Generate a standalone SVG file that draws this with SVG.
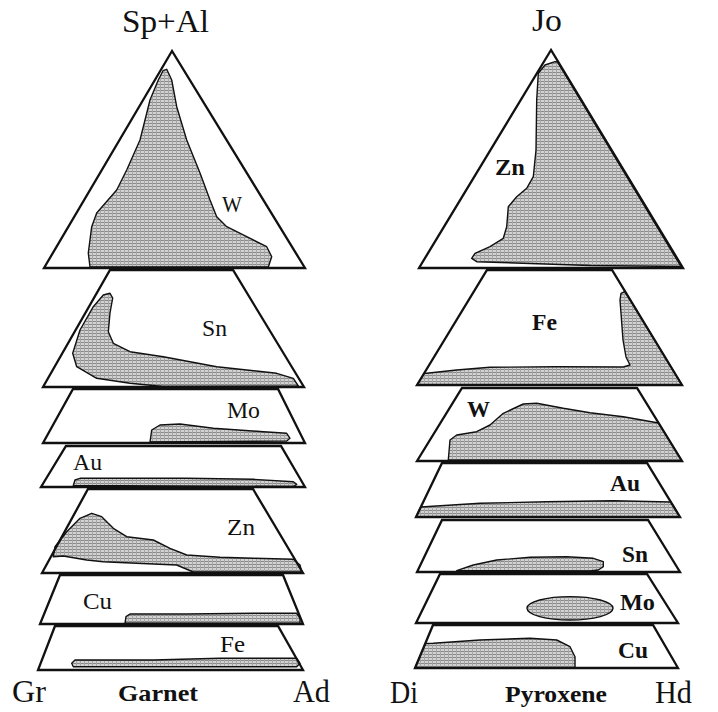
<svg xmlns="http://www.w3.org/2000/svg" width="718" height="712" viewBox="0 0 718 712">
<defs>
<pattern id="dots" width="4" height="3" patternUnits="userSpaceOnUse">
<rect width="4" height="3" fill="#d2d2d2"/>
<rect width="4" height="1" fill="#8a8a8a"/>
<rect width="1" height="3" fill="#a6a6a6"/>
</pattern>
</defs>
<style>
.blob{fill:url(#dots);stroke:#111;stroke-width:1.4;stroke-linejoin:round}
.frame{fill:none;stroke:#111;stroke-width:2.3;stroke-linejoin:miter}
.big{font-family:"Liberation Serif",serif;font-size:31px;fill:#111}
.lab{font-family:"Liberation Serif",serif;font-size:23px;fill:#111}
.bl{font-family:"Liberation Serif",serif;font-size:23px;font-weight:bold;fill:#111}
.ax{font-family:"Liberation Serif",serif;font-size:23px;font-weight:bold;fill:#111}
</style>
<rect width="718" height="712" fill="#fff"/>

<g id="garnet">
  <g id="g-W">
    <path class="blob" d="M166.7,69.3 L171.7,80 L176.7,106.7 L186.7,140 L200,173 L210,200 L216.7,216.7 L226.7,226.7 L246.7,236.7 L266.7,246.7 L271.7,256.7 L268.3,267 L90,267 L88.3,253 L91.7,226.7 L96.7,213 L116.7,190 L126.7,170 L140,140 L150,100 L158.3,80 L163,70.7 Z"/>
    <polygon class="frame" points="172,51 44,268 305,268"/>
    <text class="lab" x="222" y="212" textLength="20" lengthAdjust="spacingAndGlyphs">W</text>
  </g>
  <g id="g-Sn">
    <path class="blob" d="M110,293.3 L112.7,298 L110,313 L108.3,331.7 L113.3,343.3 L130,351.7 L163.3,356.7 L190,361.7 L216.7,366.7 L246.7,370 L276.7,373.3 L293.3,378.3 L298.3,386 L163.3,386.5 L130,383.3 L96.7,378.3 L76.7,366.7 L72.7,353.3 L80,330 L93.3,306.7 L103.3,295 Z"/>
    <polygon class="frame" points="110,270 233,270 304,387 43,387"/>
    <text class="lab" x="202" y="336" textLength="25" lengthAdjust="spacingAndGlyphs">Sn</text>
  </g>
  <g id="g-Mo">
    <path class="blob" d="M150,442 L151.7,430 L160,425 L180,424 L213.3,428.3 L263.3,431.7 L286.7,433.3 L290,438.3 L286.7,441 Z"/>
    <polygon class="frame" points="73,389 278,389 305,443 43,443"/>
    <text class="lab" x="227" y="418" textLength="33" lengthAdjust="spacingAndGlyphs">Mo</text>
  </g>
  <g id="g-Au">
    <path class="blob" d="M73.3,485.5 L75,480 L80,478.3 L186.7,478.3 L253,479.3 L293.3,481.7 L296.7,484.3 L293.3,486.5 Z"/>
    <polygon class="frame" points="66,446 281,446 305,487 41,487"/>
    <text class="lab" x="73" y="470" textLength="29" lengthAdjust="spacingAndGlyphs">Au</text>
  </g>
  <g id="g-Zn">
    <path class="blob" d="M53.3,556.7 L55,546.7 L66.7,531.7 L80,518.3 L91.7,513.3 L101.7,516.7 L113.3,528.3 L126.7,536.7 L153.3,540 L170,548.3 L186.7,555 L220,557.3 L253.3,558.3 L293.3,559.3 L300,565 L301.7,572 L193.3,572 L176.7,565 L136.7,563.3 L103.3,561.7 L86.7,560 L63.3,556 Z"/>
    <polygon class="frame" points="88,489 253,489 303,573 42,573"/>
    <text class="lab" x="227" y="535" textLength="28" lengthAdjust="spacingAndGlyphs">Zn</text>
  </g>
  <g id="g-Cu">
    <path class="blob" d="M125,623.3 L126,616.7 L130,614 L186.7,614 L253.3,613.3 L296.7,613.3 L300,618.3 L300,623.3 Z"/>
    <polygon class="frame" points="60,575 283,575 303,624 40,624"/>
    <text class="lab" x="83" y="609" textLength="29" lengthAdjust="spacingAndGlyphs">Cu</text>
  </g>
  <g id="g-Fe">
    <path class="blob" d="M73.3,666.7 L71.7,663.3 L75,660 L153.3,660 L220,658.3 L296.7,658.3 L300,663.3 L296.7,666.7 Z"/>
    <polygon class="frame" points="55,626 278,626 303,670 38,670"/>
    <text class="lab" x="220" y="652" textLength="25" lengthAdjust="spacingAndGlyphs">Fe</text>
  </g>
  <text class="big" x="122" y="32" textLength="87" lengthAdjust="spacingAndGlyphs">Sp+Al</text>
  <text class="big" x="12" y="702" textLength="34" lengthAdjust="spacingAndGlyphs">Gr</text>
  <text class="big" x="293" y="702" textLength="37" lengthAdjust="spacingAndGlyphs">Ad</text>
  <text class="ax" x="118" y="701" textLength="80" lengthAdjust="spacingAndGlyphs">Garnet</text>
</g>

<g id="pyroxene">
  <g id="p-Zn">
    <path class="blob" d="M555,61.7 L557.5,62 L681,266.5 L590,265.5 L476.7,261.7 L471.7,258.3 L475,253.3 L490,246.7 L503.3,238.3 L506.7,226.7 L508.3,206.7 L516.7,196.7 L526.7,188.3 L533.3,176.7 L536,150 L536.7,100 L538.3,73.3 L545,65 Z"/>
    <polygon class="frame" points="551,50 419,268 683,268"/>
    <text class="bl" x="495" y="175" textLength="30" lengthAdjust="spacingAndGlyphs">Zn</text>
  </g>
  <g id="p-Fe">
    <path class="blob" d="M621,293.3 L625,291.5 L682,385 L417,385 L424.3,373.3 L426.7,373.3 L456.7,370 L490,367.3 L556.7,366.7 L623.3,367 L630,365 L626,357 L623,340 L621.5,320 L620,300 Z"/>
    <polygon class="frame" points="487,270 612,270 682,385 417,385"/>
    <text class="bl" x="532" y="330" textLength="25" lengthAdjust="spacingAndGlyphs">Fe</text>
  </g>
  <g id="p-W">
    <path class="blob" d="M448.3,460 L450,440 L456.7,435 L476.7,431.7 L490,425 L503.3,413.3 L523.3,404 L536.7,403.3 L563.3,408.3 L590,412.7 L623.3,416.7 L658.6,423 L682,461 Z"/>
    <polygon class="frame" points="462,388 637,388 682,461 417,461"/>
    <text class="bl" x="467" y="417" textLength="23" lengthAdjust="spacingAndGlyphs">W</text>
  </g>
  <g id="p-Au">
    <path class="blob" d="M420.8,507 L480,503.3 L546.7,501.7 L613.3,500.7 L670.8,502 L680,517 L416,517 Z"/>
    <polygon class="frame" points="442,463 647,463 680,517 416,517"/>
    <text class="bl" x="610" y="491" textLength="30" lengthAdjust="spacingAndGlyphs">Au</text>
  </g>
  <g id="p-Sn">
    <path class="blob" d="M456.7,570.7 L473.3,565 L496.7,560 L530,557.3 L566.7,556.7 L593.3,558.3 L603.3,561.7 L603.3,566.7 L598.3,570 L590,571 Z"/>
    <polygon class="frame" points="442,520 648,520 680,572 417,572"/>
    <text class="bl" x="622" y="562" textLength="26" lengthAdjust="spacingAndGlyphs">Sn</text>
  </g>
  <g id="p-Mo">
    <ellipse class="blob" cx="570" cy="608.3" rx="43" ry="11.7"/>
    <polygon class="frame" points="440,574 647,574 678,623 416,623"/>
    <text class="bl" x="620" y="610" textLength="35" lengthAdjust="spacingAndGlyphs">Mo</text>
  </g>
  <g id="p-Cu">
    <path class="blob" d="M425.5,643.5 L433.3,643.3 L480,640 L530,638.3 L556.7,640 L570,646.7 L575,656.7 L575,668 L415,668 Z"/>
    <polygon class="frame" points="433,625 653,625 678,668 415,668"/>
    <text class="bl" x="618" y="658" textLength="30" lengthAdjust="spacingAndGlyphs">Cu</text>
  </g>
  <text class="big" x="532" y="31" textLength="30" lengthAdjust="spacingAndGlyphs">Jo</text>
  <text class="big" x="390" y="703" textLength="28" lengthAdjust="spacingAndGlyphs">Di</text>
  <text class="big" x="655" y="703" textLength="37" lengthAdjust="spacingAndGlyphs">Hd</text>
  <text class="ax" x="505" y="702" textLength="102" lengthAdjust="spacingAndGlyphs">Pyroxene</text>
</g>
</svg>
